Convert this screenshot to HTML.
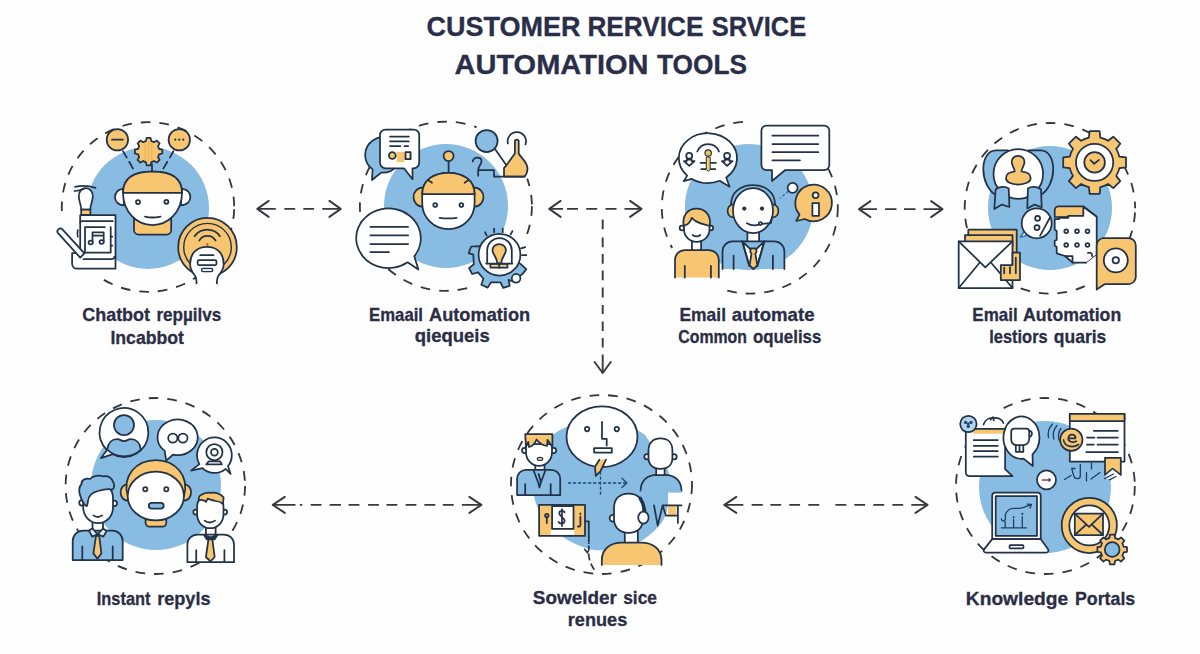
<!DOCTYPE html>
<html>
<head>
<meta charset="utf-8">
<title>Customer Service Automation Tools</title>
<style>
  html, body { margin: 0; padding: 0; background: #fefefe; }
  body { width: 1200px; height: 654px; overflow: hidden; font-family: "Liberation Sans", sans-serif; }
  svg { display: block; }
  .t { font-family: "Liberation Sans", sans-serif; font-weight: bold; fill: #2a2e48; stroke: #2a2e48; stroke-width: 0.3px; }
  .lbl { font-family: "Liberation Sans", sans-serif; font-weight: bold; fill: #2a2d45; font-size: 18.6px; stroke: #2a2d45; stroke-width: 0.3px; stroke-linejoin: round; }
  .dc { fill: none; stroke: #33363f; stroke-width: 1.8; stroke-dasharray: 9.7 9; }
  .ar { fill: none; stroke: #38393f; stroke-width: 1.9; stroke-linecap: round; stroke-linejoin: round; }
  .ard { fill: none; stroke: #3a3b43; stroke-width: 1.7; stroke-dasharray: 11 8; }
  .bl { fill: #89bce2; }
  .o { fill: #f8c670; }
  .w { fill: #ffffff; }
  .s { stroke: #223247; stroke-width: 1.75; stroke-linecap: round; stroke-linejoin: round; }
  .n { fill: none; }
  .d { fill: #223247; }
</style>
</head>
<body>
<svg width="1200" height="654" viewBox="0 0 1200 654">
  <rect x="0" y="0" width="1200" height="654" fill="#fefefe"/>

  <!-- TITLE -->
  <g class="t" font-size="27.8">
    <text x="426.6" y="35.8" textLength="154" lengthAdjust="spacingAndGlyphs">CUSTOMER</text>
    <text x="587.4" y="35.8" textLength="116" lengthAdjust="spacingAndGlyphs">RERVICE</text>
    <text x="711.8" y="35.8" textLength="94.5" lengthAdjust="spacingAndGlyphs">SRVICE</text>
    <text x="454.5" y="74.2" textLength="194" lengthAdjust="spacingAndGlyphs">AUTOMATION</text>
    <text x="657" y="74.2" textLength="90" lengthAdjust="spacingAndGlyphs">TOOLS</text>
  </g>

  <!-- BLUE DISCS -->
  <circle class="bl" cx="148" cy="208" r="61"/>
  <circle class="bl" cx="446" cy="206" r="62"/>
  <ellipse class="bl" cx="749.1" cy="207.1" rx="64.2" ry="63"/>
  <circle class="bl" cx="1050" cy="208" r="62"/>
  <circle class="bl" cx="156" cy="485" r="65"/>
  <path class="bl" d="M535.9 503.2 C533.9 497.2 533.2 492.5 533.8 485.0 C534.4 477.5 536.5 466.1 539.5 458.0 C542.5 449.9 547.5 441.6 552.1 436.4 C556.7 431.2 559.1 430.6 567.1 426.8 C575.1 422.9 588.0 412.8 600.0 413.5 C612.0 414.2 630.6 426.3 638.9 431.0 C647.2 435.7 644.7 434.9 649.6 441.7 C654.5 448.5 665.6 460.5 668.5 472.0 C671.4 483.5 669.1 500.9 666.8 510.6 C664.5 520.4 660.7 524.5 654.6 530.5 C648.5 536.5 639.2 543.2 630.0 546.5 C620.8 549.8 607.4 550.2 599.6 550.3 C591.9 550.4 589.8 549.4 583.5 547.1 C577.2 544.8 568.4 540.8 562.1 536.4 C555.9 532.0 550.4 526.5 546.0 521.0 C541.6 515.5 537.9 509.2 535.9 503.2 z"/>
  <circle class="bl" cx="1045" cy="487" r="66"/>

  <!-- DASHED RINGS -->
  <ellipse class="dc" cx="148" cy="207" rx="86.2" ry="84.8" stroke-dashoffset="16.4"/>
  <ellipse class="dc" cx="445.9" cy="206.2" rx="86" ry="84.6"/>
  <ellipse class="dc" cx="749.8" cy="207.6" rx="88" ry="86"/>
  <ellipse class="dc" cx="1049.9" cy="208.3" rx="85.2" ry="85.3" stroke-dashoffset="14.5"/>
  <ellipse class="dc" cx="155.3" cy="486" rx="89.7" ry="88"/>
  <ellipse class="dc" cx="601.5" cy="484.5" rx="90.5" ry="89.5"/>
  <ellipse class="dc" cx="1045.4" cy="486" rx="89.4" ry="88"/>
  <path d="M101.1 278.1 A86.2 84.8 0 0 1 62.1 213.7" fill="none" stroke="#fefefe" stroke-width="4"/>
  <path d="M476.7 127.2 A86.0 84.6 0 0 1 527.2 178.7" fill="none" stroke="#fefefe" stroke-width="4"/>

  <path d="M722.6 289.4 A88.0 86.0 0 0 1 672.1 248.0" fill="none" stroke="#fefefe" stroke-width="4"/>
  <path d="M750.6 121.6 A88.0 86.0 0 0 1 782.8 127.9" fill="none" stroke="#fefefe" stroke-width="4"/>
  <path d="M974.0 433.0 A89.4 88.0 0 0 1 997.4 411.8" fill="none" stroke="#fefefe" stroke-width="4"/>
  <path d="M525.4 238.6 A86.0 84.6 0 0 1 472.5 286.7" fill="none" stroke="#fefefe" stroke-width="4"/>
  <!-- ARROWS -->
  <g id="arrows" class="ar">
    <path stroke-linecap="butt" d="M257.3 208.9 H275.8 M284.4 208.9 H295.2 M303.3 208.9 H314.1 M322.3 208.9 H340.8"/>
    <path d="M268.7 200.9 L257.3 208.9 L268.7 216.9 M329.4 200.9 L340.8 208.9 L329.4 216.9"/>
    <path stroke-linecap="butt" d="M549.2 208.9 H563.0 M567.0 208.9 H578.0 M586.2 208.9 H597.2 M605.5 208.9 H616.5 M624.5 208.9 H641.5"/>
    <path d="M560.6 200.9 L549.2 208.9 L560.6 216.9 M630.1 200.9 L641.5 208.9 L630.1 216.9"/>
    <path stroke-linecap="butt" d="M859.0 209.1 H877.0 M885.0 209.1 H896.5 M904.0 209.1 H915.5 M923.5 209.1 H942.5"/>
    <path d="M870.4 201.1 L859.0 209.1 L870.4 217.1 M931.1 201.1 L942.5 209.1 L931.1 217.1"/>
    <path stroke-linecap="butt" d="M602.7 219.6 V229.3 M602.7 237.5 V247.2 M602.7 254.0 V263.7 M602.7 270.6 V280.2 M602.7 287.6 V297.5 M602.7 305.0 V314.0 M602.7 321.5 V331.1 M602.7 338.0 V347.6 M602.7 354.5 V372.6"/>
    <path d="M594.6 362 L602.7 373 L610.8 362"/>
    <path stroke-linecap="butt" d="M272.8 504.9 H295.5 M299.9 504.9 H302.3 M310.7 504.9 H321.5 M329.7 504.9 H341.0 M348.6 504.9 H359.4 M368.1 504.9 H378.9 M386.5 504.9 H397.3 M405.6 504.9 H416.4 M424.4 504.9 H435.3 M442.8 504.9 H453.7 M461.9 504.9 H481.4"/>
    <path d="M284.8 496.9 L272.8 504.9 L284.8 512.9 M469.4 496.9 L481.4 504.9 L469.4 512.9"/>
    <path stroke-linecap="butt" d="M724.3 504.9 H743.3 M751.6 504.9 H762.8 M770.4 504.9 H781.2 M789.3 504.9 H800.1 M808.3 504.9 H819.2 M835.4 504.9 H846.3 M854.3 504.9 H865.1 M873.3 504.9 H884.2 M892.4 504.9 H903.2 M911.3 504.9 H927.5"/>
    <path d="M736.3 496.9 L724.3 504.9 L736.3 512.9 M915.5 496.9 L927.5 504.9 L915.5 512.9"/>
  </g>

  <!-- LABELS -->
  <g id="labels" class="lbl">
    <text x="82.3" y="321.3" textLength="67.7" lengthAdjust="spacingAndGlyphs">Chatbot</text>
    <text x="156.4" y="321.3" textLength="64.9" lengthAdjust="spacingAndGlyphs">repµilvs</text>
    <text x="110.4" y="343.7" textLength="73.6" lengthAdjust="spacingAndGlyphs">Incabbot</text>
    <text x="369.0" y="320.6" textLength="54.0" lengthAdjust="spacingAndGlyphs">Emaail</text>
    <text x="429.0" y="320.6" textLength="101.2" lengthAdjust="spacingAndGlyphs">Automation</text>
    <text x="414.8" y="342.3" textLength="75.0" lengthAdjust="spacingAndGlyphs">qiequeis</text>
    <text x="679.5" y="320.7" textLength="46.5" lengthAdjust="spacingAndGlyphs">Email</text>
    <text x="731.7" y="320.7" textLength="82.8" lengthAdjust="spacingAndGlyphs">automate</text>
    <text x="678.3" y="342.6" textLength="68.7" lengthAdjust="spacingAndGlyphs">Common</text>
    <text x="753.0" y="342.6" textLength="68.3" lengthAdjust="spacingAndGlyphs">oqueliss</text>
    <text x="972.3" y="321.0" textLength="45.4" lengthAdjust="spacingAndGlyphs">Email</text>
    <text x="1023.0" y="321.0" textLength="98.2" lengthAdjust="spacingAndGlyphs">Automation</text>
    <text x="989.2" y="342.6" textLength="58.5" lengthAdjust="spacingAndGlyphs">lestiors</text>
    <text x="1053.8" y="342.6" textLength="52.5" lengthAdjust="spacingAndGlyphs">quaris</text>
    <text x="96.8" y="604.8" textLength="53.7" lengthAdjust="spacingAndGlyphs">Instant</text>
    <text x="157.2" y="604.8" textLength="53.3" lengthAdjust="spacingAndGlyphs">repyls</text>
    <text x="532.8" y="604.0" textLength="84.0" lengthAdjust="spacingAndGlyphs">Sowelder</text>
    <text x="623.2" y="604.0" textLength="33.8" lengthAdjust="spacingAndGlyphs">sice</text>
    <text x="567.8" y="625.8" textLength="59.5" lengthAdjust="spacingAndGlyphs">renues</text>
    <text x="965.8" y="605.2" textLength="102.4" lengthAdjust="spacingAndGlyphs">Knowledge</text>
    <text x="1075.0" y="605.2" textLength="60.2" lengthAdjust="spacingAndGlyphs">Portals</text>
  </g>

  <!-- ICON 1 -->
  <g id="icon1">
    <!-- connector lines -->
    <path class="s n" d="M123 151.2 L126.8 157.6 M129.2 161.8 L133 168.6 M173.4 151.2 L169.8 157.6 M167.3 161.8 L163.3 168.6"/>
    <path class="s n" d="M152 164 V172"/>
    <!-- top circles -->
    <circle class="o s" cx="117.4" cy="139.7" r="10.7"/>
    <path class="s n" d="M112 139.7 H122.8" stroke-width="1.9"/>
    <circle class="o s" cx="179.3" cy="139.7" r="10.7"/>
    <circle class="d" cx="175.3" cy="139.7" r="1.1"/><circle class="d" cx="179.3" cy="139.7" r="1.1"/><circle class="d" cx="183.3" cy="139.7" r="1.1"/>
    <!-- gear -->
    <path class="o s" stroke-linejoin="round" d="M145.8 141.2 L146.7 137.9 L150.5 137.9 L151.4 141.2 A10.8 10.8 0 0 1 154.0 142.2 L156.9 140.6 L159.6 143.3 L158.0 146.2 A10.8 10.8 0 0 1 159.0 148.8 L162.3 149.7 L162.3 153.5 L159.0 154.4 A10.8 10.8 0 0 1 158.0 157.0 L159.6 159.9 L156.9 162.6 L154.0 161.0 A10.8 10.8 0 0 1 151.4 162.0 L150.5 165.3 L146.7 165.3 L145.8 162.0 A10.8 10.8 0 0 1 143.2 161.0 L140.3 162.6 L137.6 159.9 L139.2 157.0 A10.8 10.8 0 0 1 138.2 154.4 L134.9 153.5 L134.9 149.7 L138.2 148.8 A10.8 10.8 0 0 1 139.2 146.2 L137.6 143.3 L140.3 140.6 L143.2 142.2 A10.8 10.8 0 0 1 145.8 141.2 z"/>
    <path class="n" stroke="#e3ae58" stroke-width="0.9" d="M145.4 142 V161 M148.6 141 V162 M151.8 142 V161"/>
    <!-- ears -->
    <path class="w s" d="M124 188.8 C112 188.8 112 205.3 124 205.3 z"/>
    <path class="w s" d="M181 188.8 C193.5 188.8 193.5 205.3 181 205.3 z"/>
    <!-- neck -->
    <path class="o s" d="M134 218 H171.2 V230 a4.6 4.6 0 0 1 -4.6 4.6 H138.6 a4.6 4.6 0 0 1 -4.6 -4.6 z"/>
    <!-- head -->
    <path class="w s" d="M123 192.8 C123 178 134 171.7 152.5 171.7 C171 171.7 182 178 182 192.8 C182 212 168 225 152.5 225 C137 225 123 212 123 192.8 z"/>
    <path class="o s" d="M123 192.8 C123 178 134 171.7 152.5 171.7 C171 171.7 182 178 182 192.8 z"/>
    <circle class="w s" cx="138" cy="202" r="2"/>
    <circle class="w s" cx="166.4" cy="201.8" r="2"/>
    <path class="s n" d="M145 216.6 Q152.5 218.4 160.5 216.6"/>
    <!-- music box -->
    <path class="w s" d="M85.8 188.2 C90.5 188.2 92.8 192.5 92.8 196.5 C92.8 201.5 90.3 204 90.3 209.5 H81.2 C81.2 204 78.8 201.5 78.8 196.5 C78.8 192.5 81 188.2 85.8 188.2 z"/>
    <rect class="o s" x="81.2" y="209.6" width="9.2" height="5.2"/>
    <path class="s n" d="M75 186.8 Q85 184.6 95.5 187.8 M74.5 191 Q80 190.8 84.4 188.4"/>
    <path class="w s" d="M80.2 215.2 H115.5 V268.7 H77 a4.9 4.9 0 0 1 -4.9 -4.9 V253.2 H80.2 z"/>
    <path class="s n" d="M80.2 222.8 a1.8 1.8 0 0 1 1.8 -1.8 H112.8 M83.4 259 H112 a2.4 2.4 0 0 0 2.4 -2.4"/>
    <path class="s n" d="M104.8 227 H85 V252.6 H110.7 V227"/>
    <path class="s n" d="M110.7 236.5 H112.3 M110.7 245.6 H112.3 M77.8 230.2 Q77 233.5 77.8 236.6"/>
    <!-- note -->
    <path class="s n" stroke-width="1.2" d="M92.5 242 V232.3 H103.7 V241.5 M92.5 235.5 H103.7"/>
    <ellipse class="w s" cx="90.7" cy="242.5" rx="2.1" ry="1.8" stroke-width="1.2"/>
    <ellipse class="w s" cx="101.6" cy="242" rx="2.1" ry="1.8" stroke-width="1.2"/>
    <!-- arm -->
    <path class="w s" d="M58.3 233.4 a2.9 2.9 0 0 1 4.1 -4.1 L84.4 253.4 L80.2 257.6 z"/>
    <!-- wifi disc -->
    <circle class="o s" cx="207.5" cy="247.2" r="29.3"/>
    <circle class="n" cx="207.5" cy="247.2" r="23.8" stroke="#223247" stroke-width="1.4"/>
    <path class="s n" stroke-width="1.4" d="M194.6 236.2 A15.4 15.4 0 0 1 220 236.2 M199.2 240.6 A9.4 9.4 0 0 1 215.6 240.6"/>
    <circle cx="207.3" cy="244.4" r="1.2" fill="#c7453a"/>
    <path class="w s" d="M190.1 264 C190.1 253 197 246.8 207 246.8 C217 246.8 223.7 253 223.7 264 C223.7 270 220.5 273 218.3 276 C217 278 216.8 280 216.8 284.8 H196.6 C196.6 280 196.4 278 195.2 276 C193 273 190.1 270 190.1 264 z"/>
    <path class="w" d="M195.8 284 H217.6 V288 H195.8 z"/>
    <path class="s n" d="M200.2 255.2 H213.5"/>
    <rect class="w s" x="197.6" y="260" width="18.9" height="5.2" rx="1.6"/>
    <rect x="201.6" y="268.4" width="11" height="3.2" rx="1.3" fill="#e4e9ef" stroke="#223247" stroke-width="1.4"/>
  </g>
  <!-- ICON 2 -->
  <g id="icon2">
    <!-- blue bubble behind -->
    <path class="bl s" d="M372.6 169.4 A17.7 17.7 0 1 1 381.2 172.6 L372.0 180.0 z"/>
    <!-- white bubble -->
    <path class="w s" d="M385.5 129.5 H413.7 a5.5 5.5 0 0 1 5.5 5.5 V162.8 a5.5 5.5 0 0 1 -5.5 5.5 H412.5 V179.3 L404 168.3 H385.5 a5.5 5.5 0 0 1 -5.5 -5.5 V135 a5.5 5.5 0 0 1 5.5 -5.5 z"/>
    <path class="s n" stroke-width="1.5" d="M390 136.5 H408.8 M390 141.4 H408.8 M390 146 H400.3 M404.5 146 H408.2"/>
    <rect class="o" x="396.6" y="151.8" width="7.6" height="10.4"/>
    <circle class="o s" cx="392.3" cy="155.5" r="3.4"/>
    <rect class="o s" x="405.4" y="152.2" width="5.2" height="7"/>
    <rect class="w" x="407" y="153.6" width="2" height="4.2"/>
    <!-- antenna -->
    <path class="s n" d="M448.6 161 V173"/>
    <circle class="o s" cx="448.6" cy="156" r="5"/>
    <!-- ears -->
    <path class="o s" d="M424 187.4 C410 187.4 410 206.8 424 206.8 z"/>
    <path class="o s" d="M473 187.4 C487 187.4 487 206.8 473 206.8 z"/>
    <!-- head -->
    <path class="w s" d="M422.2 194 C422.2 180 434 172.8 448.4 172.8 C462.8 172.8 474.6 180 474.6 194 V203 C474.6 218 463 229.2 448.4 229.2 C434 229.2 422.2 218 422.2 203 z"/>
    <path class="o s" d="M422.2 194 C422.2 180 434 172.8 448.4 172.8 C462.8 172.8 474.6 180 474.6 194 z"/>
    <path class="s n" stroke-width="1.1" d="M428 180 L432 182.8 M468.6 180 L464.6 182.8"/>
    <circle class="w s" cx="435.2" cy="205.1" r="1.9"/>
    <circle class="w s" cx="461.4" cy="205.1" r="1.9"/>
    <path class="s n" d="M439.6 217.8 Q448 219 456.6 217.8"/>
    <!-- bottom-left bubble -->
    <path class="w s" d="M407.6 262.3 A32.3 29.8 0 1 1 414.3 256.2 L418.4 269.5 z"/>
    <path class="s n" stroke-width="1.5" d="M370.4 226.8 H408.1 M370.4 235.4 H408.1 M370.4 244 H408.1 M370.4 252 H389"/>
    <!-- top right: circle + pointer -->
    <path class="s n" d="M495 149 L506.4 165.3"/>
    <circle class="bl s" cx="486.6" cy="141" r="11"/>
    <path class="s n" d="M507.9 143.5 a9.2 9.2 0 1 1 17.6 0.8"/>
    <path class="o s" d="M504 176.5 V168 L506.4 165.3 L514.9 153.5 V141.6 a1.9 1.9 0 0 1 3.8 0 V153.5 C521 158 527.5 162 527.5 168.5 C527.5 172 526 175 524.5 176.5 z"/>
    <path class="w" d="M495 177.2 H504.6 V168 L506 166 L498 157 z" opacity="0"/>
    <path class="s n" d="M472.7 161.5 C473.5 156.5 482 156 481.5 161.5 C481 165 478.2 166 478.2 170.2 V175.7 M478.8 170.2 H494 V176.5 H524.7"/>
    <!-- gear bottom right -->
    <g transform="translate(499.5 254.7)">
      <path class="bl s" d="M-19.8 -8.6 L-28.4 -8.2 L-30.8 -1.6 L-26.2 0 L-25.7 9.6 L-30.5 13.4 L-27.3 19.3 L-21.4 17.7 L-16.1 24.1 L-18.2 30 L-11.8 32.9 L-8.6 27.8 L1.1 27.8 L3.7 33.2 L10.2 31.1 L9.1 25.2 L14 27 L23.6 18.7 L26.8 14.5 L20.9 9.1 L0 0 z"/>
      <circle class="w s" cx="0" cy="0" r="20.9"/>
      <path class="s n" d="M-14.5 -22.5 L-12.9 -19.3 M-5.4 -26.2 V-22.5 M3.2 -26.2 V-22.5 M12.9 -23.6 L11.2 -20.3 M21.5 -6.4 L25.7 -7.5 M22.5 0.5 H26.8"/>
      <circle class="w s" cx="16.6" cy="23.6" r="4.3"/>
      <path class="s n" d="M-12.3 8.6 V-4.3 A12.3 12.3 0 0 1 12.3 -4.3 V8.6"/>
      <path class="o s" stroke-width="1.2" d="M-0.3 -10.7 C3.6 -10.7 6.4 -7.8 6.4 -4.3 C6.4 -0.5 2.4 1.5 1.7 8.6 H-2.2 C-2.9 1.5 -7 -0.5 -7 -4.3 C-7 -7.8 -4.2 -10.7 -0.3 -10.7 z"/>
      <path class="s" fill="#f5d58c" stroke-width="1.2" d="M-9.1 9.1 H8 V12.9 H-9.1 z"/>
      <path class="s n" stroke-width="1.2" d="M-13.4 8.9 H12.9 M-0.3 9.1 V12.9"/>
    </g>
  </g>
  <!-- ICON 3 -->
  <g id="icon3">
    <!-- left bubble -->
    <path class="w s" d="M687.2 175.6 A29.1 24.9 0 1 1 726.2 177.5 L729.6 186.7 L719.7 180.8 A29.1 24.9 0 0 1 691.9 178.9 L683.7 181.2 z"/>
    <path class="s n" d="M697.3 151.5 A11.6 11.6 0 0 1 719 151.5"/>
    <path class="s n" stroke-width="1.2" d="M700.6 162.8 H715.9 M701.2 169 H715.3"/>
    <path d="M706.3 157 H710.2 V169.6 L708.2 171.4 L706.3 169.6 z" fill="#f3d06c" stroke="#223247" stroke-width="1"/>
    <circle cx="708.2" cy="153" r="3.2" fill="#f3c458" stroke="#223247" stroke-width="1.2"/>
    <circle class="w s" cx="689.2" cy="155.8" r="3" stroke-width="1.2"/>
    <path class="w s" stroke-width="1.2" d="M684 161 H686.8 V159.5 H691.6 V161 H694.6 L689.2 165.8 z"/>
    <circle class="w s" cx="727.1" cy="155.8" r="3" stroke-width="1.2"/>
    <path class="w s" stroke-width="1.2" d="M721.9 161 H724.7 V159.5 H729.5 V161 H732.5 L727.1 165.8 z"/>
    <!-- speech bubble top-right -->
    <path class="w s" d="M766.4 125.6 H824.3 a5 5 0 0 1 5 5 V165 a5 5 0 0 1 -5 5 H785.3 L772 181 V170 H766.4 a5 5 0 0 1 -5 -5 V130.6 a5 5 0 0 1 5 -5 z"/>
    <path class="s n" stroke-width="1.5" d="M772.4 135.7 H818.3 M772.4 144 H818.3 M772.4 152.2 H818.3 M772.4 160.3 H800"/>
    <!-- small circle + dashed -->
    <path class="n" stroke="#2f6aa3" stroke-width="1.2" stroke-dasharray="3 2" d="M788.5 191 L779.8 198.4"/>
    <circle class="w s" cx="792.6" cy="187.8" r="5"/>
    <!-- info bubble -->
    <path class="o s" d="M799.5 214.6 A18.3 18.3 0 1 1 804.8 219.0 L796.3 221.0 z"/>
    <circle class="w s" cx="815.6" cy="195.2" r="2.9"/>
    <rect class="w s" x="812.4" y="203" width="6.6" height="12.8"/>
    <!-- small person -->
    <path class="w s" d="M691.9 240 H701.1 V251 H691.9 z"/>
    <path class="o s" d="M675 277.5 V260 a10 10 0 0 1 10 -10 H708.8 a10 10 0 0 1 10 10 V277.5"/>
    <path class="s n" d="M684.8 265.8 V277.5 M710.9 265.8 V277.5"/>
    <circle class="w s" cx="682" cy="228" r="2.3"/>
    <circle class="w s" cx="710.8" cy="228" r="2.3"/>
    <path class="w s" d="M684 225 C684 214 690 210 696.5 210 C703 210 709.5 214 709.5 225 V229 C709.5 237 703.5 241.8 696.5 241.8 C690 241.8 684 237 684 229 z"/>
    <path class="o s" d="M683.6 226 C682 215 688 208.6 696.5 208.6 C705 208.6 711.5 215 709.8 226 C703 224 695 223 691.9 217.8 C690.5 222 687.5 225 683.6 226 z"/>
    <path class="s n" d="M692.7 235 Q696.5 237.8 700.3 235"/>
    <!-- agent -->
    <path class="w s" d="M747.4 231 H759.1 V243 H747.4 z"/>
    <path class="bl s" d="M722.5 269.1 V251.4 a10 10 0 0 1 10 -10 H774.4 a10 10 0 0 1 10 10 V269.1"/>
    <path class="w s" d="M742.3 241.4 L753.3 252 L764.3 241.4 L757.8 264 L753.3 268.5 L748.8 264 z"/>
    <path class="o s" d="M751 248.4 H755.8 L756.6 252 L755.3 253.5 L757.4 265.5 L753.4 269 L749.6 265.5 L751.5 253.5 L750.2 252 z"/>
    <path class="s n" d="M742.3 241.4 L749.3 266 M764.3 241.4 L757.4 266"/>
    <path class="s n" d="M733.6 255.7 V269.1 M772.9 255.7 V269.1"/>
    <path class="o s" d="M734 204.4 C725.5 204.4 725.5 217.4 734 217.4 z"/>
    <path class="o s" d="M772 204.4 C780.5 204.4 780.5 217.4 772 217.4 z"/>
    <ellipse class="w s" cx="753" cy="210.5" rx="20" ry="22.5"/>
    <path class="s n" d="M731 204.5 C731 192 741 185 753 185 C765 185 775 192 775 204.5"/>
    <circle class="d" cx="744.3" cy="208.6" r="2.1"/>
    <circle class="d" cx="762" cy="208.6" r="2.1"/>
    <path class="s n" d="M746.9 223.2 Q752.5 226.5 759 224.6"/>
    <path class="s n" d="M772 217.4 L770.9 223.2 L762 224"/>
    <circle class="w s" cx="760.4" cy="223.6" r="1.6"/>
  </g>
  <!-- ICON 4 -->
  <g id="icon4">
    <!-- badge ribbons -->
    <path class="bl s" d="M1008 150.4 H996 C979 150.4 979 186 996.5 195.5 L1008 190 z"/>
    <path class="bl s" d="M1028.5 150.4 H1040.5 C1057.5 150.4 1057.5 186 1040 195.5 L1028.5 190 z"/>
    <circle class="w s" cx="1018.3" cy="174" r="24.8"/>
    <path class="bl s" d="M995.6 189.5 C999 186.5 1005 186 1008.7 188.5 L1009.4 207 L1001.8 204.6 L994.3 209.1 z"/>
    <path class="bl s" d="M1041 189.5 C1037.6 186.5 1031.6 186 1027.9 188.5 L1027.3 208.4 L1034.5 204.6 L1041.7 207.2 z"/>
    <path class="o s" d="M1018 155.8 C1022 155.8 1024.5 158.8 1024.5 162 C1024.5 165.5 1021.8 167.5 1021.5 171.5 C1027 172 1030.7 174.5 1030.7 178.2 C1030.7 182 1025 184.5 1018 184.5 C1011 184.5 1006 182 1006 178.2 C1006 174.5 1009.5 172 1014.7 171.5 C1014.4 167.5 1011.7 165.5 1011.7 162 C1011.7 158.8 1014 155.8 1018 155.8 z"/>
    <!-- gear -->
    <path class="o s" d="M1088.9 137.6 L1089.6 131.0 L1099.6 131.0 L1100.3 137.6 A25.5 25.5 0 0 1 1108.1 140.8 L1113.3 136.7 L1120.3 143.7 L1116.2 148.9 A25.5 25.5 0 0 1 1119.4 156.7 L1126.0 157.4 L1126.0 167.4 L1119.4 168.1 A25.5 25.5 0 0 1 1116.2 175.9 L1120.3 181.1 L1113.3 188.1 L1108.1 184.0 A25.5 25.5 0 0 1 1100.3 187.2 L1099.6 193.8 L1089.6 193.8 L1088.9 187.2 A25.5 25.5 0 0 1 1081.1 184.0 L1075.9 188.1 L1068.9 181.1 L1073.0 175.9 A25.5 25.5 0 0 1 1069.8 168.1 L1063.2 167.4 L1063.2 157.4 L1069.8 156.7 A25.5 25.5 0 0 1 1073.0 148.9 L1068.9 143.7 L1075.9 136.7 L1081.1 140.8 A25.5 25.5 0 0 1 1088.9 137.6 z"/>
    <circle class="w s" cx="1094.6" cy="162.4" r="18.6"/>
    <circle class="o s" cx="1094.6" cy="162.4" r="10.3"/>
    <path class="s n" d="M1090.5 160.2 L1094.2 163.8 L1099 159.9"/>
    <!-- % bubble -->
    <path class="w" d="M1024.5 231.5 L1020.2 237.2 L1028 234.5 z"/>
    <path class="n" stroke="#2f6aa3" stroke-width="1.3" stroke-linejoin="round" d="M1024.5 231.5 L1020.2 237.2 L1028.5 234.8"/>
    <circle class="w s" cx="1036.7" cy="223.3" r="15"/>
    <circle class="w s" cx="1037.6" cy="218.3" r="2.5"/>
    <circle class="w s" cx="1037" cy="227.5" r="2.5"/>
    <path class="s n" d="M1050 217.5 L1040 235.8"/>
    <!-- keypad doc -->
    <path class="o s" d="M1054.7 217 V210.3 a4 4 0 0 1 4 -4 H1083.3 L1096.7 216.7 z"/>
    <path class="w s" d="M1068.3 215.8 H1083.3 L1083.3 206.7 L1096.7 216.7 V255 L1087.5 262.5 H1072.5 L1065 256 L1056.7 253.3 V247 L1054.7 245.5 V240.8 L1056.7 240 V231 L1054.7 229.5 V219.2 H1059 V217.8 H1068.3 z"/>
    <path class="s n" d="M1065 256 H1072.5 V262.5"/>
    <g class="w s" stroke-width="1.2">
      <circle cx="1066.2" cy="231.2" r="1.9"/><circle cx="1077" cy="231.2" r="1.9"/><circle cx="1087.5" cy="231.2" r="1.9"/>
      <circle cx="1066.2" cy="245" r="1.9"/><circle cx="1077" cy="245" r="1.9"/><circle cx="1087.5" cy="245" r="1.9"/>
    </g>
    <path class="s n" d="M1088 253 C1090 252 1092.5 253 1092 256"/>
    <!-- white backing under orange bubble -->
    <path class="w" d="M1087 262.5 L1096.7 255 V292 H1087 z"/>
    <!-- orange chat bubble -->
    <path class="o s" d="M1103.3 238 H1128.3 a7.5 7.5 0 0 1 7.5 7.5 V276.7 a7.5 7.5 0 0 1 -7.5 7.5 H1104.5 L1096.7 289.5 V245.5 a7.5 7.5 0 0 1 6.6 -7.5 z"/>
    <circle class="w s" cx="1115.8" cy="260.3" r="12"/>
    <circle class="w s" cx="1115.8" cy="260.3" r="3.2"/>
    <!-- envelope stack -->
    <path class="o s" d="M968.3 229.7 H1016.7 V252.5 H968.3 z"/>
    <path class="o s" d="M965 235 H1012.5 V246 H965 z"/>
    <path class="w s" d="M958.7 241.3 H1012.5 V288 H958.7 z"/>
    <path class="s n" d="M958.7 241.3 L985.3 267.3 L1012.5 241.3 M958.7 288 L980 262.2 M1012.5 288 L990.7 262.2"/>
    <path class="o s" d="M1012.5 252.5 H1020 V280 H1000.8 V265 H1012.5 z"/>
    <path class="s n" d="M1004.2 267.5 V273.3 M1010 267 V273.3 M1015.8 257.5 V273.3"/>
  </g>
  <!-- ICON 5 -->
  <g id="icon5">
    <!-- bubble 1 -->
    <path class="w s" d="M107.0 450.0 A24.4 24.4 0 1 1 112.7 454.1 L101.0 458.1 z"/>
    <path class="bl s" d="M107.2 449.6 C108 443 112 439.2 117 439.2 C120 439.2 122 441.2 124 441.2 C126 441.2 128 439.2 131 439.2 C136 439.2 140 443 140.9 449.6 A24.4 24.4 0 0 1 107.2 449.6 z"/>
    <circle class="bl s" cx="124" cy="425" r="10"/>
    <!-- bubble 2 -->
    <path class="w s" d="M164.7 450.9 A20.1 17.8 0 1 1 173.0 454.6 L166.2 460.6 z"/>
    <circle class="w s" cx="172.8" cy="438.1" r="4.6"/>
    <circle class="w s" cx="182.9" cy="438.1" r="4.6"/>
    <!-- bubble 3 -->
    <path class="w s" d="M199.4 464.1 A17.4 17.7 0 1 1 228.0 466.2 L230.6 473.8 L225.6 468.8 A17.4 17.7 0 0 1 202.5 468.1 L191.0 470.6 z"/>
    <circle class="w s" cx="214.4" cy="452.2" r="8.1"/>
    <circle class="w s" cx="214.4" cy="452.2" r="3.4"/>
    <path class="w s" d="M208.8 461.3 H220 L221.9 464.4 H206.3 z"/>
    <!-- robot head -->
    <path class="o s" d="M145.6 518 H166.3 V522.7 a4 4 0 0 1 -4 4 H149.6 a4 4 0 0 1 -4 -4 z"/>
    <path class="o s" d="M128.5 484 C118 484 118 500.7 128.5 500.7 z"/>
    <path class="o s" d="M183.2 484 C193.7 484 193.7 500.7 183.2 500.7 z"/>
    <path class="o s" d="M127.7 496 C122 476 136 460 155.8 460 C175.6 460 189.5 476 184 496 z"/>
    <ellipse class="w s" cx="155.8" cy="496" rx="28.1" ry="24.4"/>
    <circle class="w s" cx="145.3" cy="489.3" r="2.1"/>
    <circle class="w s" cx="166.3" cy="489.3" r="2.1"/>
    <rect class="bl s" x="148.8" y="502.8" width="14.9" height="5.8" rx="2.9"/>
    <!-- left person -->
    <path class="w s" d="M92.5 520 H103 V533 H92.5 z"/>
    <path class="bl s" d="M72.7 560 V541 a10.5 10.5 0 0 1 10.5 -10.5 H112.2 a10.5 10.5 0 0 1 10.5 10.5 V560 z"/>
    <path class="s n" d="M82.3 546.4 V560 M112.7 546.4 V560"/>
    <path class="o s" d="M96 535.9 H99.2 L101.4 553.4 L97.4 558.7 L93.4 553.4 z"/>
    <path class="s" fill="#dbe8f5" d="M89 530.6 L92.5 528.5 L97.6 534.3 L103 528.5 L106.6 531 L103.4 536.6 L97.6 534.3 L92.2 536.6 z"/>
    <circle class="w s" cx="82" cy="502.8" r="2.8"/>
    <circle class="w s" cx="114.2" cy="503.3" r="2.8"/>
    <path class="w s" d="M83.2 498 C83.2 488 90 484 98 484 C106 484 113 488 113 498 V507 C113 516.5 106.5 523 98 523 C90 523 83.2 516.5 83.2 507 z"/>
    <path class="bl s" d="M84.5 504.5 C80 498 77 489 81.5 484.2 C81 480 86 477.6 90 479 C93 475.5 99 475 103.5 476.4 C108 475.5 112.5 478 113.6 483 C114.8 485.5 114 488.5 112.4 489.6 C108 488.6 103 489.6 98 491 C92 492.5 88.4 496.5 88 501 C87.8 503 87.4 505.5 86.6 506.2 z"/>
    <path class="s n" d="M93.4 515.4 Q97.8 518.6 102.2 515.4"/>
    <!-- right person -->
    <path class="w s" d="M205.9 526 H215.6 V537 H205.9 z"/>
    <path class="w s" d="M187.4 562.2 V544.5 a10 10 0 0 1 10 -10 H224 a10 10 0 0 1 10 10 V562.2 z"/>
    <path class="s n" d="M196.2 550 V562.2 M224.4 550 V562.2"/>
    <path class="o s" d="M208.6 538.5 H212.2 L214.7 557 L210.4 561.3 L205.9 557 z"/>
    <path class="d s" d="M204 535 L210.5 537.4 L217.4 535 L214.5 539.4 H206.8 z"/>
    <circle class="w s" cx="195.8" cy="512.1" r="2.5"/>
    <circle class="w s" cx="224.6" cy="512.1" r="2.5"/>
    <path class="w s" d="M197.1 507 C197.1 499 203 495.5 210.2 495.5 C217.5 495.5 223.5 499 223.5 507 V514 C223.5 522.5 217.5 528.2 210.2 528.2 C203 528.2 197.1 522.5 197.1 514 z"/>
    <path class="o s" d="M198.7 500.5 C198.6 497.5 199.5 495.4 201 495 C204 493 208 492.4 210.5 492.8 C215.5 492.4 221 494.5 223.6 497.4 L223 504 C221.5 502.6 218.5 501.2 215.5 501 C212.5 500.2 209.5 499.4 207.7 498.6 L206 501.8 C204 500.2 201 499.6 198.7 500.5 z"/>
    <path class="s n" d="M204.6 520.6 Q209.8 524.4 215 520.6"/>
  </g>
  <!-- ICON 6 -->
  <g id="icon6">
    <!-- right-top person (behind) -->
    <path class="bl s" d="M640.6 491 C640.6 481 647 474.8 657 474.8 H665 C675 474.8 681.5 481 681.5 491"/>
    <path class="bl" d="M640.6 490.5 H681.5 V506 H640.6 z"/>
    <path class="w s" d="M656.2 466 H664.6 V475.2 H656.2 z"/>
    <circle class="w s" cx="647" cy="456.7" r="2.7"/>
    <circle class="w s" cx="674" cy="456.7" r="2.7"/>
    <path class="w s" d="M648.5 450.4 C648.5 442.5 653.5 438.4 660.4 438.4 C667.4 438.4 672.4 442.5 672.4 450.4 V458 C672.4 464.5 668 468.8 660.4 468.8 C653 468.8 648.5 464.5 648.5 458 z"/>
    <rect class="w" x="668.1" y="492.6" width="15" height="13"/>
    <rect class="o" x="668.1" y="506" width="8.4" height="9.5"/>
    <path class="s n" d="M654 505.4 L657.7 525.6 L662.6 505.4 H681.5 M662.6 505.4 L665.9 515.5 H677.9 M677.9 505.4 V522.9"/>
    <!-- face bubble -->
    <ellipse class="w s" cx="602" cy="436.7" rx="35.5" ry="30.3"/>
    <path class="o" d="M599.4 459.7 H606 L600.3 471.5 L595.8 475.9 L595 466.8 z"/>
    <path class="s n" d="M606 459.7 L600.3 471.5 L595.8 475.9 L595 466.8 L599.4 459.7"/>
    <circle class="w s" cx="587.1" cy="429.1" r="2.2"/>
    <circle class="w s" cx="616.8" cy="429.1" r="2.2"/>
    <path class="s n" d="M602 421.9 V438.8 H606.7 V445.5"/>
    <rect class="w s" x="594.1" y="448" width="17.7" height="4.7"/>
    <!-- dashed arrow -->
    <path class="n" stroke="#1c4a7a" stroke-width="1.3" stroke-dasharray="3.2 1.8" d="M568 483 H626 M600.5 471.5 V495"/>
    <path class="n" stroke="#1c4a7a" stroke-width="1.4" stroke-linecap="round" stroke-linejoin="round" d="M621.9 478.2 L626.9 483 L621.9 487.6"/>
    <!-- left person -->
    <path class="w s" d="M535.3 463 H544.5 V471.5 H535.3 z"/>
    <path class="bl s" d="M517.1 495 V478.8 a9 9 0 0 1 9 -9 H551.2 a9 9 0 0 1 9 9 V495 z"/>
    <path class="s n" d="M525.2 484 V495 M550.7 484 V495"/>
    <path class="s n" d="M533.6 470.5 L539.5 486 L545.4 470.5 M538.6 474 L541 482.5 L539.4 487.5 L538.2 482"/>
    <circle class="w s" cx="524.6" cy="450.5" r="2.6"/>
    <circle class="w s" cx="553.6" cy="450.5" r="2.6"/>
    <path class="w s" d="M526 444 V452 C526 460 531.5 465.8 539 465.8 C546.5 465.8 552 460 552 452 V444 z"/>
    <path class="o s" d="M525.2 434 H552.4 V447 L547.5 439.8 L547 446 C543.5 445.5 539.5 443.5 536.5 439.5 C535 443.5 532 446.5 529 447 L528.2 442 L526 446.5 z"/>
    <ellipse cx="540" cy="458.9" rx="2.8" ry="1.5" fill="#f3d9a8" stroke="#223247" stroke-width="1.1"/>
    <!-- money -->
    <rect class="o s" x="539.1" y="504.8" width="45.9" height="31"/>
    <rect class="w" x="550.6" y="529.5" width="23.7" height="5.4"/>
    <rect class="w s" x="552.1" y="506" width="21.4" height="22.9"/>
    <path class="s n" stroke-width="1.3" d="M564.6 512.3 C563.5 510.2 559 510.4 559.3 513.5 C559.5 516.5 564.8 517.5 564.6 521 C564.4 524 560 524.5 558.6 522 M562 509 V526"/>
    <circle class="s n" cx="546.8" cy="515.6" r="1.7" stroke-width="1.2"/>
    <path class="s n" stroke-width="1.2" d="M546.8 517.3 V523 M580.4 516.5 V525 C580.4 526.6 579 527 577.8 526.4 M580.4 513.4 V514"/>
    <path class="s n" d="M585 521.3 H588.8 V541.5"/>
    <path class="n" stroke="#223247" stroke-width="1.7" stroke-dasharray="1.5 1.6 4 1.6" d="M588.8 542.5 V550.5"/>
    <path class="n" stroke="#223247" stroke-width="1.5" stroke-linecap="round" d="M584.6 549.2 L587.4 552.6 L588.9 549.6"/>
    <path class="n" stroke="#2b3340" stroke-width="1.7" stroke-dasharray="7 3.5" d="M588.6 553.5 C588.8 560 591 566 596.5 572.5"/>
    <!-- bottom person -->
    <path class="w s" d="M624.8 530 H637.8 V544 H624.8 z"/>
    <path class="o s" d="M601.8 564.9 V560 C601.8 549 610 542.7 622 542.7 H641 C653 542.7 661.5 549 661.5 560 V564.9"/>
    <circle class="w s" cx="612.9" cy="518.2" r="3.3"/>
    <path class="w s" d="M614 508 C614 498.5 620 493.5 628.6 493.5 C637.2 493.5 643.1 498.5 643.1 508 V519 C643.1 527.5 637.5 532.8 628.6 532.8 C620 532.8 614 527.5 614 519 z"/>
    <path class="s n" d="M640.8 497.5 C643.5 501.5 645 506.5 645.6 512 M639.3 498.6 C641.8 502.4 643.4 507 644 512"/>
    <ellipse class="w s" cx="643.4" cy="517.6" rx="5.2" ry="6"/>
  </g>
  <!-- ICON 7 -->
  <g id="icon7">
    <!-- top arc thing over doc -->
    <path class="s n" d="M983.5 424.5 C985 420 989 417.6 993 418 C998 417 1002 419.5 1003.4 423 M990.5 419.6 L993 417.2 L993.8 420.4"/>
    <!-- doc left -->
    <path class="w" d="M965.8 428.8 H1005.1 V469.2 L1012.5 476.2 H969.5 a3.7 3.7 0 0 1 -3.7 -3.7 z"/>
    <rect class="o" x="973.3" y="429" width="31.5" height="4.7"/>
    <path class="n s" d="M965.8 428.8 H1005.1 V469.2 L1012.5 476.2 H969.5 a3.7 3.7 0 0 1 -3.7 -3.7 z"/>
    <path class="s n" stroke-width="1.8" d="M973.8 440.2 H997.8 M973.8 445.8 H997.8 M973.8 451 H997.8 M973.8 456.7 H997.8"/>
    <circle class="s" fill="#b4d3ee" cx="968.4" cy="424" r="8.2"/>
    <g fill="#1c4a7a"><circle cx="965.6" cy="422.4" r="1.7"/><circle cx="971" cy="422.4" r="1.7"/><circle cx="968.3" cy="426.4" r="1.7"/><circle cx="968.3" cy="424" r="1.4"/></g>
    <!-- head bubble -->
    <path class="w s" d="M1023.5 458.6 A18.0 21.1 0 1 1 1032.5 454.3 L1032.8 466.0 z"/>
    <path class="w s" d="M1029 431 C1032.5 430 1033 436.5 1029.3 436.8"/>
    <path class="w s" d="M1015.8 444 H1023.3 V451.8 H1015.8 z M1019.5 446 V451.8"/>
    <path class="w s" d="M1014.2 428.5 H1026.2 a3 3 0 0 1 3 3 V439 C1029.2 443 1026 445 1023 445 H1016.5 C1013.5 445 1011.2 443 1011.2 439 V431.5 a3 3 0 0 1 3 -3 z"/>
    <!-- wifi arcs -->
    <path class="n" stroke="#1c3f66" stroke-width="1.3" stroke-linecap="round" d="M1052.5 424 C1048.5 428.5 1047.5 433 1048.5 437.5 M1057 425.5 C1053.5 429.5 1052.6 434.5 1053.8 439 M1061 428.5 C1058.3 432 1058 436 1059 440"/>
    <!-- cert -->
    <rect class="w s" x="1069.8" y="413.8" width="54.7" height="47.7"/>
    <rect class="o s" x="1069.8" y="413.8" width="54.7" height="7.2"/>
    <path class="s n" stroke-width="1.5" d="M1093.8 430.8 H1117.8 M1087 437.5 H1094.5 M1097.5 437.5 H1117.8 M1087 444.7 H1093.8 M1097.5 444.7 H1117.8 M1086.3 452.2 H1117.8"/>
    <path class="o s" d="M1105 457.8 H1120.8 V475 L1112.6 468.6 L1105 475 z"/>
    <path class="w" d="M1105.5 475.6 L1112.6 469.6 L1120.6 475.8 L1121 479 H1105 z" opacity="0.85"/>
    <!-- @ circle -->
    <circle class="o s" cx="1071.3" cy="439.8" r="11.2"/>
    <path class="s n" stroke-width="1.3" d="M1068.6 438.4 H1075.5 C1075.8 434 1069.5 433 1068.4 437.6 C1067.5 442 1073 443.2 1076.2 441.2 M1063.6 440 C1064.5 446.5 1072.5 448.5 1078.5 444.5"/>
    <!-- squiggles below cert -->
    <path class="n" stroke="#1c3f66" stroke-width="1.3" stroke-linecap="round" d="M1080.3 464.5 V476 C1080.3 479.5 1074.5 479.5 1074 476 C1072.5 473.5 1072.3 470 1071.8 468.5 H1075 M1071 475.5 L1064.5 479.5 M1091.5 463 V469 M1086.5 472.5 V481 M1100 472.5 L1091 479 M1113.5 474 L1104.5 478.6 M1116 476.5 L1109.5 479.8"/>
    <!-- minus circle -->
    <circle class="w s" cx="1046.5" cy="479.9" r="9.5"/>
    <path class="n" stroke="#7a2f3a" stroke-width="1.4" d="M1041.9 480 H1050.3"/>
    <path class="n" stroke="#223247" stroke-width="1.1" d="M1048.6 478.4 L1050.4 480 L1048.6 481.6"/>
    <!-- laptop -->
    <path class="w s" d="M992.2 539.1 V495.6 a3 3 0 0 1 3 -3 H1037.7 a3 3 0 0 1 3 3 V539.1 z"/>
    <rect class="bl s" x="995.7" y="496" width="41.3" height="39.8"/>
    <path class="w s" d="M992.2 539.1 H1040.7 L1048.2 549.6 C1048.8 551 1048 552.6 1046.2 552.6 H986 C984 552.6 983.3 551 983.9 549.6 z"/>
    <rect class="w s" x="1009.5" y="545" width="14" height="3.3" rx="1"/>
    <path class="n" stroke="#1c3f66" stroke-width="1.3" stroke-linecap="round" stroke-linejoin="round" d="M1001.4 527.8 H1026.6 M1005.2 522 V527.8 M1013.6 519.4 V527.8 M1022.3 516.6 V527.8 M1001.4 519 C1002 522 1005 522 1005.4 518.6 V514 C1006.5 512 1008 510 1010 509 C1013 507.6 1017 509 1020.5 508.2 C1024 507.4 1027.5 506 1031.2 504.6 M1027.4 504.2 L1031.4 504.5 L1030 508"/>
    <circle cx="1022.3" cy="513.8" r="1.1" fill="#1c3f66"/><circle cx="1013.6" cy="517.2" r="1" fill="#1c3f66"/>
    <!-- orange ring + envelope -->
    <circle class="o s" cx="1089.3" cy="525.4" r="27.6"/>
    <circle class="w s" cx="1089.3" cy="525.4" r="20"/>
    <rect class="o s" x="1074.8" y="513.6" width="28.2" height="21.4"/>
    <path class="s n" d="M1074.8 513.6 L1089 526.8 L1103 513.6 M1074.8 535 L1086.4 524.4 M1103 535 L1091.6 524.4"/>
    <!-- small gear -->
    <path class="o s" stroke-linejoin="round" d="M1109.3 538.1 L1109.9 534.7 L1114.5 534.7 L1115.1 538.1 A11.8 11.8 0 0 1 1118.3 539.4 L1121.0 537.4 L1124.3 540.7 L1122.3 543.4 A11.8 11.8 0 0 1 1123.6 546.6 L1127.0 547.2 L1127.0 551.8 L1123.6 552.4 A11.8 11.8 0 0 1 1122.3 555.6 L1124.3 558.3 L1121.0 561.6 L1118.3 559.6 A11.8 11.8 0 0 1 1115.1 560.9 L1114.5 564.3 L1109.9 564.3 L1109.3 560.9 A11.8 11.8 0 0 1 1106.1 559.6 L1103.4 561.6 L1100.1 558.3 L1102.1 555.6 A11.8 11.8 0 0 1 1100.8 552.4 L1097.4 551.8 L1097.4 547.2 L1100.8 546.6 A11.8 11.8 0 0 1 1102.1 543.4 L1100.1 540.7 L1103.4 537.4 L1106.1 539.4 A11.8 11.8 0 0 1 1109.3 538.1 z"/>
    <circle class="bl s" cx="1112.2" cy="549.5" r="7.4"/>
  </g>
</svg>
</body>
</html>
